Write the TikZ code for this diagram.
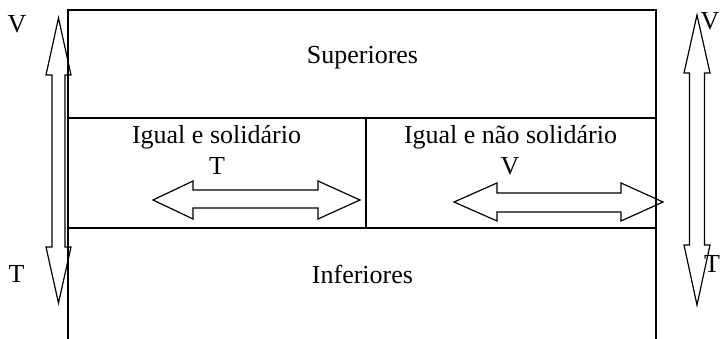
\documentclass[tikz,border=0pt]{standalone}
\usepackage{fontspec}
\setmainfont{Liberation Serif}
\begin{document}
\begin{tikzpicture}[x=1pt,y=-1pt,
  boxline/.style={line width=1.8pt},
  bigarrow/.style={line width=1.2pt, line join=miter},
  lbl/.style={anchor=base, inner sep=0pt, font=\fontsize{26}{31}\selectfont}]
\useasboundingbox (0,0) rectangle (720,339);
% box
\draw[boxline] (68,339) -- (68,10) -- (656,10) -- (656,339);
\draw[boxline] (68,118) -- (656,118);
\draw[boxline] (68,228) -- (656,228);
\draw[boxline] (366,118) -- (366,228);
% vertical arrows
\draw[bigarrow] (58.5,18) -- (71,75) -- (65,75) -- (65,247) -- (71,247) -- (58.5,303)
  -- (46,247) -- (52,247) -- (52,75) -- (46,75) -- cycle;
\draw[bigarrow] (697,15) -- (710,73) -- (704.5,73) -- (704.5,245) -- (710,245) -- (697,305)
  -- (684,245) -- (689.5,245) -- (689.5,73) -- (684,73) -- cycle;
% horizontal arrows
\draw[bigarrow] (153,200) -- (193,181) -- (193,190) -- (318,190) -- (318,181) -- (360,200)
  -- (318,219) -- (318,208) -- (193,208) -- (193,219) -- cycle;
\draw[bigarrow] (454,202) -- (497,183) -- (497,193) -- (621,193) -- (621,183) -- (663,202)
  -- (621,221) -- (621,212) -- (497,212) -- (497,221) -- cycle;
% labels
\node[lbl] (sup) at (362.5,64) {Superiores};
\node[lbl] (inf) at (362.5,283) {Inferiores};
\node[lbl] (ies) at (216.5,144) {Igual e solidário};
\node[lbl] (iest) at (217,175) {T};
\node[lbl] (ins) at (510.5,144) {Igual e não solidário};
\node[lbl] (insv) at (510,175) {V};
\node[lbl] (lv) at (17,33) {V};
\node[lbl] (lt) at (16.5,282) {T};
\node[lbl] (rv) at (710,30) {V};
\node[lbl] (rt) at (712,272) {T};
\end{tikzpicture}
\end{document}
